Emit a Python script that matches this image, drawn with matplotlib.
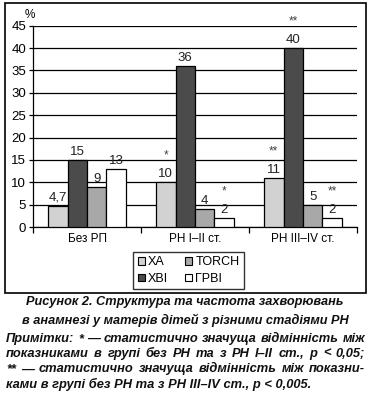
import numpy as np
import matplotlib.pyplot as plt
from matplotlib.patches import Rectangle

# Дані
categories = ['Без РП', 'РН I–II ст.', 'РН III–IV ст.']
series = ['ХА', 'ХВІ', 'TORCH', 'ГРВІ']
values = {
    'ХА':    [4.7, 10, 11],
    'ХВІ':   [15, 36, 40],
    'TORCH': [9, 4, 5],
    'ГРВІ':  [13, 2, 2],
}
stars = {
    'ХА':    ['', '*', '**'],
    'ХВІ':   ['', '', '**'],
    'TORCH': ['', '', ''],
    'ГРВІ':  ['', '*', '**'],
}
colors = ['#d2d2d2', '#4b4b4b', '#a8a8a8', '#ffffff']
yticks = np.arange(0, 50, 5)

narrow = ['Liberation Sans Narrow', 'Liberation Sans', 'DejaVu Sans']
plt.rcParams['font.family'] = ['Liberation Sans', 'DejaVu Sans']

fig = plt.figure(figsize=(3.70, 3.99), dpi=100)
ax = fig.add_axes([33 / 370, 1 - 227 / 399, (357 - 33) / 370, (227 - 25.7) / 399])

x = np.arange(len(categories))
w = 0.18
for i, s in enumerate(series):
    pos = x + (i - 1.5) * w
    bars = ax.bar(pos, values[s], w, color=colors[i], edgecolor='black',
                  linewidth=0.9, label=s, zorder=3)
    for b, v, st in zip(bars, values[s], stars[s]):
        txt = f'{v:g}'.replace('.', ',')
        ax.annotate(txt, (b.get_x() + b.get_width() / 2, v), xytext=(0, 1.5),
                    textcoords='offset points', ha='center', va='bottom',
                    fontsize=9.5, family=narrow, color='#222222', zorder=4)
        if st:
            ax.annotate(st, (b.get_x() + b.get_width() / 2, v), xytext=(0, 15),
                        textcoords='offset points', ha='center', va='bottom',
                        fontsize=8.5, family=narrow, color='#444444',
                        annotation_clip=False, zorder=4)

ax.set_ylim(0, 45)
ax.set_xlim(-0.5, 2.5)
ax.set_yticks(yticks)
ax.set_yticklabels([str(t) for t in yticks], family=narrow, fontsize=9.5)
ax.yaxis.grid(True, color='black', linewidth=0.9, zorder=0)
ax.set_axisbelow(True)
ax.set_xticks([-0.5, 0.5, 1.5, 2.5])
ax.set_xticklabels([])
ax.set_xticks(x, minor=True)
ax.set_xticklabels(categories, minor=True, family=narrow, fontsize=8.5)
ax.tick_params(axis='x', which='minor', length=0, pad=4)
ax.tick_params(axis='x', which='major', length=4, direction='out', width=0.9)
ax.tick_params(axis='y', length=3, width=0.9, pad=2)
for sp in ['top', 'right']:
    ax.spines[sp].set_visible(False)
for sp in ['left', 'bottom']:
    ax.spines[sp].set_linewidth(0.9)

fig.text(30 / 370, 1 - 15 / 399, '%', family=narrow, fontsize=8.5,
         ha='center', va='center')

leg = fig.legend(loc='center', bbox_to_anchor=(188.5 / 370, 1 - 270.5 / 399),
                 ncol=2, frameon=True, fancybox=False,
                 edgecolor='black', handlelength=0.55, handleheight=0.55,
                 handletextpad=0.25, columnspacing=1.4, borderpad=0.35,
                 labelspacing=0.35, prop={'family': narrow, 'size': 9})
leg.get_frame().set_linewidth(1.0)
for h in leg.legend_handles:
    h.set_linewidth(0.8)

fig.patches.append(Rectangle((5 / 370, 1 - 293 / 399), 361 / 370, 290 / 399,
                             transform=fig.transFigure, fill=False,
                             edgecolor='black', linewidth=1.2))

cap = dict(fontsize=9.2, fontweight='bold', fontstyle='italic', color='#111111')
fig.text(0.5, 1 - 302 / 399, 'Рисунок 2. Структура та частота захворювань',
         ha='center', va='center', **cap)
fig.text(0.5, 1 - 320 / 399, 'в анамнезі у матерів дітей з різними стадіями РН',
         ha='center', va='center', **cap)
notes = [
    'Примітки: * — статистично значуща відмінність між',
    'показниками в групі без РН та з РН I–II ст., p < 0,05;',
    '** — статистично значуща відмінність між показни-',
    'ками в групі без РН та з РН III–IV ст., p < 0,005.',
]

# вирівнювання приміток по ширині (крім останнього рядка)
note = dict(cap, fontsize=9.3)
renderer = fig.canvas.get_renderer()
x0, x1 = 6, 365
for k, line in enumerate(notes):
    yy = 1 - (339 + k * 15.2) / 399
    if k == len(notes) - 1:
        fig.text(x0 / 370, yy, line, ha='left', va='center', **note)
        continue
    words = line.split(' ')
    objs = [fig.text(0, yy, wd, ha='left', va='center', **note) for wd in words]
    widths = [o.get_window_extent(renderer).width for o in objs]
    gap = max((x1 - x0 - sum(widths)) / (len(words) - 1), 2.0)
    xp = x0
    for o, wd in zip(objs, widths):
        o.set_x(xp / 370)
        xp += wd + gap

fig.savefig('out.png', dpi=100)
